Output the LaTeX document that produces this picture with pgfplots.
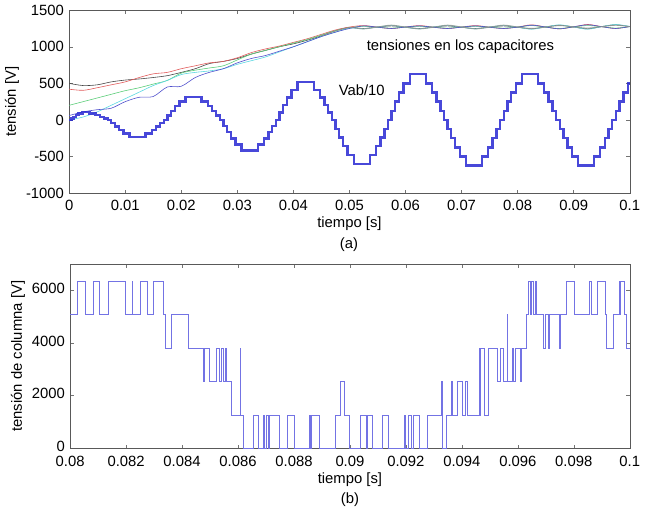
\documentclass[border=0pt]{standalone}
\usepackage{pgfplots}
\pgfplotsset{compat=1.18}
\usepackage{pgfplotstable}
\usepackage{fontspec}
\setmainfont{Liberation Sans}
\definecolor{cred}{RGB}{225,90,90}
\definecolor{cdark}{RGB}{70,70,70}
\definecolor{cgreen}{RGB}{90,205,120}
\definecolor{ccyan}{RGB}{90,215,225}
\definecolor{cblue}{RGB}{80,80,205}
\definecolor{cgray}{RGB}{140,145,140}
\definecolor{vab}{RGB}{40,40,210}
\definecolor{col}{RGB}{115,115,228}

\pgfplotstableread{
t red dark green cyan blue gray
0 420 500 200 0 60 nan
0.0025 405 470 250 40 110 nan
0.005 440 480 300 110 140 nan
0.0075 480 520 350 200 160 nan
0.01 520 545 400 290 250 nan
0.0125 580 560 440 380 310 nan
0.015 630 580 490 470 320 nan
0.0175 650 605 540 540 450 nan
0.02 700 650 640 620 460 nan
0.0225 740 700 680 650 580 nan
0.025 780 770 710 670 650 nan
0.0275 800 800 740 700 700 nan
0.03 850 840 820 760 780 nan
0.0325 920 900 900 810 840 nan
0.035 970 950 950 860 880 nan
0.0375 1010 1000 1000 930 940 nan
0.04 1060 1040 1050 1000 1000 nan
0.0425 1110 1090 1100 1070 1070 nan
0.045 1170 1150 1160 1140 1140 1150
0.0475 1230 1220 1220 1200 1200 1215
0.05 1270 1265 1260 1255 1250 1262
0.0525 1290 1250 1280 1245 1285 1245
0.055 1268 1270 1266 1270 1268 1270
0.0575 1250 1285 1255 1290 1250 1295
0.06 1270 1268 1270 1266 1270 1268
0.0625 1290 1250 1280 1245 1285 1245
0.065 1268 1270 1268 1270 1266 1268
0.0675 1250 1285 1255 1290 1250 1295
0.07 1270 1266 1270 1268 1268 1270
0.0725 1290 1250 1280 1245 1285 1245
0.075 1268 1270 1268 1270 1266 1268
0.0775 1250 1285 1255 1290 1250 1295
0.08 1270 1266 1270 1268 1268 1270
0.0825 1300 1245 1290 1240 1295 1250
0.085 1270 1272 1268 1272 1270 1270
0.0875 1245 1295 1250 1300 1245 1290
0.09 1272 1270 1272 1270 1274 1272
0.0925 1305 1245 1290 1240 1300 1255
0.095 1275 1276 1274 1276 1275 1275
0.0975 1250 1300 1255 1305 1250 1295
0.1 1278 1275 1276 1278 1276 1276
}\caps

\pgfplotsset{
  mstyle/.style={
    scale only axis,
    font=\fontsize{15}{17}\selectfont,
    axis line style={black!65, line width=0.5pt},
    tick style={black!55, line width=0.4pt},
    major tick length=3.5pt,
    tick align=inside,
    tick pos=both,
    xticklabel style={yshift=-2pt},
    xlabel style={yshift=4pt},
    ylabel style={yshift=-3pt},
    clip=true,
  }
}

\begin{document}
\fontsize{15}{17}\selectfont
\begin{tikzpicture}
\begin{axis}[mstyle,
  at={(69pt,-205pt)}, anchor=south west,
  width=567pt, height=185pt,
  xmin=0, xmax=0.1, ymin=-1000, ymax=1500,
  xtick={0,0.01,0.02,0.03,0.04,0.05,0.06,0.07,0.08,0.09,0.1},
  xticklabels={0,0.01,0.02,0.03,0.04,0.05,0.06,0.07,0.08,0.09,0.1},
  ytick={-1000,-500,0,500,1000,1500},
  yticklabels={-1000,-500,0,500,1000,1500},
  xlabel={tiempo [s]}, ylabel={tensión [V]},
  unbounded coords=jump,
]
\addplot[cdark, line width=0.6pt, smooth] table[x=t, y=dark] {\caps};
\addplot[cred, line width=0.6pt, smooth] table[x=t, y=red] {\caps};
\addplot[cgreen, line width=0.6pt, smooth] table[x=t, y=green] {\caps};
\addplot[ccyan, line width=0.6pt, smooth] table[x=t, y=cyan] {\caps};
\addplot[cblue, line width=0.6pt, smooth] table[x=t, y=blue] {\caps};
\addplot[cgray, line width=1pt, smooth, opacity=0.8] table[x=t, y=gray] {\caps};
\addplot[vab, line width=2.4pt, const plot, opacity=0.85] coordinates {
(0,0) (0.0004,22) (0.0008,44) (0.0012,66) (0.0017,88) (0.0024,110) (0.0036,88) (0.00473,66) (0.00553,44) (0.00623,22) (0.00688,0)
(0.00752,-46) (0.00817,-92) (0.00887,-138) (0.00967,-184) (0.01076,-230) (0.01364,-184) (0.01473,-138) (0.01553,-92) (0.01623,-46) (0.01688,0)
(0.01752,63) (0.01817,126) (0.01887,189) (0.01967,252) (0.02076,315) (0.02364,252) (0.02473,189) (0.02553,126) (0.02623,63) (0.02688,0)
(0.02752,-84) (0.02817,-168) (0.02887,-252) (0.02967,-336) (0.03076,-420) (0.03364,-336) (0.03473,-252) (0.03553,-168) (0.03623,-84) (0.03688,0)
(0.03752,103) (0.03817,206) (0.03887,309) (0.03967,412) (0.04076,515) (0.04364,412) (0.04473,309) (0.04553,206) (0.04623,103) (0.04688,0)
(0.04752,-120) (0.04817,-240) (0.04887,-360) (0.04967,-480) (0.05076,-600) (0.05364,-480) (0.05473,-360) (0.05553,-240) (0.05623,-120) (0.05688,0)
(0.05752,125) (0.05817,250) (0.05887,375) (0.05967,500) (0.06076,625) (0.06364,500) (0.06473,375) (0.06553,250) (0.06623,125) (0.06688,0)
(0.06752,-125) (0.06817,-250) (0.06887,-375) (0.06967,-500) (0.07076,-625) (0.07364,-500) (0.07473,-375) (0.07553,-250) (0.07623,-125) (0.07688,0)
(0.07752,125) (0.07817,250) (0.07887,375) (0.07967,500) (0.08076,625) (0.08364,500) (0.08473,375) (0.08553,250) (0.08623,125) (0.08688,0)
(0.08752,-125) (0.08817,-250) (0.08887,-375) (0.08967,-500) (0.09076,-625) (0.09364,-500) (0.09473,-375) (0.09553,-250) (0.09623,-125) (0.09688,0)
(0.09752,125) (0.09817,250) (0.09887,375) (0.09967,500) (0.1,500)
};
\node[font=\fontsize{15}{17}\selectfont] at (axis cs:0.0698,1000) {tensiones en los capacitores};
\node[font=\fontsize{15}{17}\selectfont] at (axis cs:0.0522,400) {Vab/10};
\end{axis}

\node at (352pt,-257pt) {(a)};

\begin{axis}[mstyle,
  at={(70pt,-463pt)}, anchor=south west,
  width=566pt, height=186pt,
  xmin=0.08, xmax=0.1, ymin=0, ymax=7000,
  xtick={0.08,0.082,0.084,0.086,0.088,0.09,0.092,0.094,0.096,0.098,0.1},
  xticklabels={0.08,0.082,0.084,0.086,0.088,0.09,0.092,0.094,0.096,0.098,0.1},
  ytick={0,2000,4000,6000},
  yticklabels={0,2000,4000,6000},
  yticklabel style={yshift=2pt},
  xticklabel style={yshift=-1pt},
  xlabel={tiempo [s]}, ylabel={tensión de columna [V]},
]
\addplot[col, line width=0.65pt, const plot] coordinates {
(0.08000,5080) (0.08027,6350) (0.08055,5080) (0.08082,6350) (0.08104,5080) (0.08135,6350) (0.08197,5080)
(0.08221,6350) (0.08224,5080) (0.08251,6350) (0.08277,5080) (0.08298,6350) (0.08333,5080) (0.08342,3810)
(0.08362,5080) (0.08421,3810) (0.08477,2540) (0.08480,3810) (0.08498,2540) (0.08524,3810) (0.08533,2540)
(0.08542,3810) (0.08548,2540) (0.08554,3810) (0.08559,2540) (0.08577,1270) (0.08607,3810) (0.08610,1270)
(0.08618,0) (0.08654,1270) (0.08671,0) (0.08689,1270) (0.08695,0) (0.08701,1270) (0.08707,0) (0.08713,1270)
(0.08748,0) (0.08777,1270) (0.08801,0) (0.08854,1270) (0.08858,0) (0.08863,1270) (0.08889,0) (0.08948,1270)
(0.08966,2540) (0.08980,1270) (0.08999,0) (0.09037,1270) (0.09058,0) (0.09061,1270) (0.09081,0) (0.09117,1270)
(0.09137,0) (0.09193,1270) (0.09197,0) (0.09208,1270) (0.09219,0) (0.09225,1270) (0.09249,0) (0.09278,1270)
(0.09325,2540) (0.09329,0) (0.09346,1270) (0.09361,2540) (0.09366,1270) (0.09384,2540) (0.09402,1270)
(0.09414,2540) (0.09420,1270) (0.09461,3810) (0.09464,1270) (0.09467,3810) (0.09482,1270) (0.09496,3810)
(0.09526,2540) (0.09537,3810) (0.09549,2540) (0.09561,5080) (0.09564,2540) (0.09579,3810) (0.09584,2540)
(0.09590,3810) (0.09608,2540) (0.09614,3810) (0.09632,5080) (0.09637,6350) (0.09643,5080) (0.09649,6350)
(0.09655,5080) (0.09661,6350) (0.09667,5080) (0.09690,3810) (0.09699,5080) (0.09708,3810) (0.09714,5080)
(0.09749,3810) (0.09753,5080) (0.09773,6350) (0.09802,5080) (0.09855,6350) (0.09861,5080) (0.09885,6350)
(0.09914,5080) (0.09918,3810) (0.09941,5080) (0.09961,6350) (0.09964,5080) (0.09967,6350) (0.09982,5080)
(0.09989,3810) (0.1,3810)
};
\end{axis}

\node at (353pt,-515pt) {(b)};
\end{tikzpicture}
\end{document}
